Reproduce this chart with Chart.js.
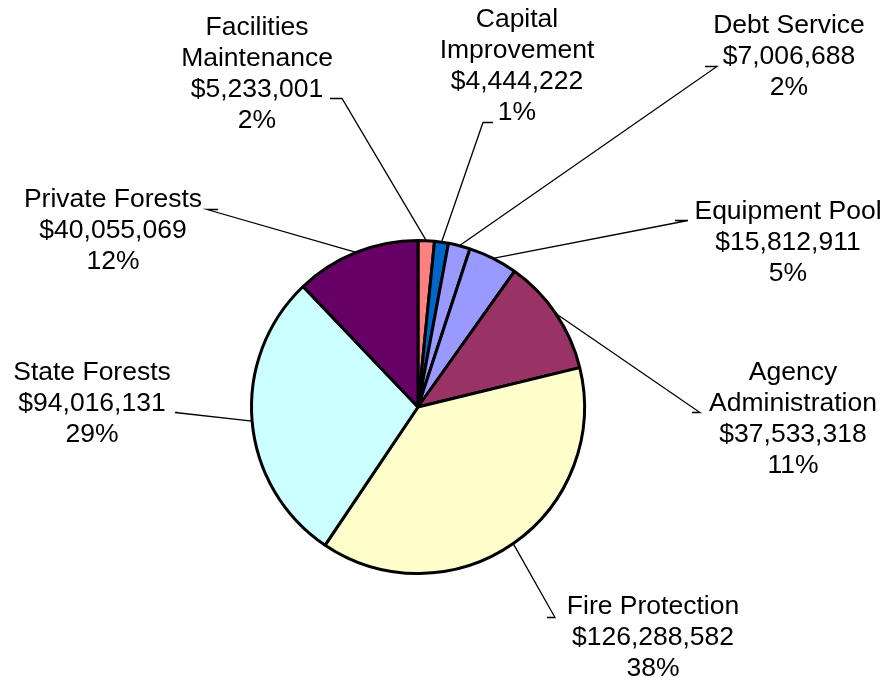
<!DOCTYPE html>
<html>
<head>
<meta charset="utf-8">
<script src="https://cdn.jsdelivr.net/npm/chart.js@4/dist/chart.umd.min.js"></script>
<style>
  body { margin: 0; background: #fff; }
  #wrap { width: 892px; height: 682px; }
</style>
</head>
<body>
<div id="wrap"><canvas id="chart" width="892" height="682"></canvas></div>
<script>
// budget by program, clockwise from 12 o'clock
let categories = [
    ["Facilities", "Maintenance"],
    ["Capital", "Improvement"],
    ["Debt Service"],
    ["Equipment Pool"],
    ["Agency", "Administration"],
    ["Fire Protection"],
    ["State Forests"],
    ["Private Forests"]
];
let amounts = [5233001, 4444222, 7006688, 15812911, 37533318, 126288582, 94016131, 40055069];
let percentLabels = ["2%", "1%", "2%", "5%", "11%", "38%", "29%", "12%"];
let sliceColors = ["#FF8080", "#0066CC", "#9999FF", "#9999FF", "#993366", "#FFFFCC", "#CCFFFF", "#660066"];

// label layout: text centre x, first line centre y, leader tick [x1, x2, y]
let labelLayout = [
    { x: 257, y: 28, tick: [342, 330, 98] },
    { x: 517, y: 20, tick: [483, 493, 122] },
    { x: 789, y: 26, tick: [717, 705, 66] },
    { x: 788, y: 212, tick: [688, 675, 220] },
    { x: 793, y: 373, tick: [700, 692, 412] },
    { x: 653, y: 607, tick: [555, 547, 617] },
    { x: 92, y: 373, tick: [175, 178, 412] },
    { x: 113, y: 200, tick: [207, 218, 209] }
];

function formatDollars(v) {
    return "$" + v.toString().replace(/\B(?=(\d{3})+(?!\d))/g, ",");
}

const labelPlugin = {
    id: "leaderLabels",
    afterDraw(chart) {
        let ctx = chart.ctx;
        let arcs = chart.getDatasetMeta(0).data;
        ctx.save();
        ctx.strokeStyle = "#000";
        ctx.lineWidth = 1.3;
        arcs.forEach((arc, i) => {
            let mid = (arc.startAngle + arc.endAngle) / 2;
            let px = arc.x + Math.cos(mid) * arc.outerRadius;
            let py = arc.y + Math.sin(mid) * arc.outerRadius;
            let t = labelLayout[i].tick;
            ctx.beginPath();
            ctx.moveTo(t[1], t[2] + 0.5);
            ctx.lineTo(t[0], t[2] + 0.5);
            ctx.lineTo(px, py);
            ctx.stroke();
        });

        ctx.fillStyle = "#000";
        ctx.font = "26.5px 'Liberation Sans', Arial, sans-serif";
        ctx.textAlign = "center";
        ctx.textBaseline = "middle";
        categories.forEach((name, i) => {
            let lines = name.concat([formatDollars(amounts[i]), percentLabels[i]]);
            let pos = labelLayout[i];
            lines.forEach((line, j) => {
                ctx.fillText(line, pos.x, pos.y + j * 31);
            });
        });
        ctx.restore();
    }
};

new Chart(document.getElementById("chart").getContext("2d"), {
    type: "pie",
    data: {
        labels: categories.map(c => c.join(" ")),
        datasets: [{
            data: amounts,
            backgroundColor: sliceColors,
            borderColor: "#000",
            borderWidth: 3
        }]
    },
    options: {
        responsive: false,
        animation: false,
        events: [],
        layout: {
            padding: { left: 250, right: 306, top: 239, bottom: 107 }
        },
        plugins: {
            legend: { display: false },
            tooltip: { enabled: false }
        }
    },
    plugins: [labelPlugin]
});
</script>
</body>
</html>
